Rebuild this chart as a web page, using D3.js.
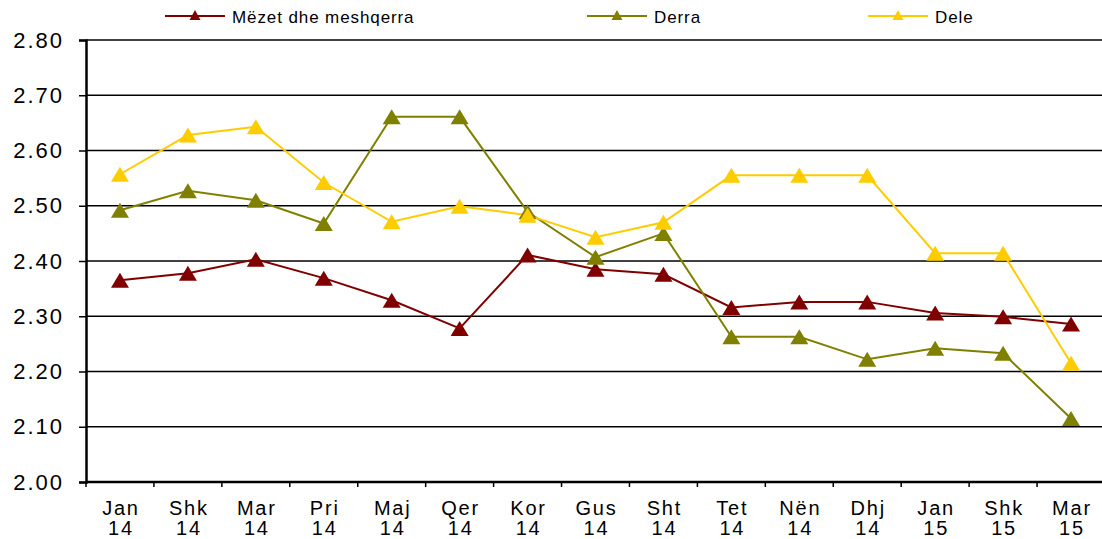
<!DOCTYPE html>
<html>
<head>
<meta charset="utf-8">
<script src="https://cdn.jsdelivr.net/npm/d3@7"></script>
<style>
  body { margin: 0; background: #fff; }
  svg { font-family: "Liberation Sans", Arial, sans-serif; }
</style>
</head>
<body>
<div id="graph"></div>
<script>
// Months (Albanian) and years
const months = ["Jan", "Shk", "Mar", "Pri", "Maj", "Qer", "Kor", "Gus", "Sht", "Tet", "Nën", "Dhj", "Jan", "Shk", "Mar"];
const years = ["14", "14", "14", "14", "14", "14", "14", "14", "14", "14", "14", "14", "15", "15", "15"];
const yTicks = [2.0, 2.1, 2.2, 2.3, 2.4, 2.5, 2.6, 2.7, 2.8];

const seriesNames = ["Mëzet dhe meshqerra", "Derra", "Dele"];
const mezet = [2.365, 2.378, 2.403, 2.369, 2.329, 2.278, 2.411, 2.385, 2.376, 2.316, 2.326, 2.326, 2.306, 2.299, 2.286];
const derra = [2.492, 2.527, 2.510, 2.468, 2.661, 2.661, 2.489, 2.407, 2.450, 2.263, 2.263, 2.222, 2.242, 2.233, 2.115];
const dele = [2.557, 2.628, 2.643, 2.542, 2.471, 2.499, 2.483, 2.443, 2.470, 2.555, 2.555, 2.555, 2.414, 2.414, 2.215];

const colors = ["#800000", "#808000", "#FFCC00"];

const width = 1102;
const height = 539;
const margins = { top: 40, right: -3, bottom: 57, left: 86 };

const keys = months.map((m, i) => i);

const xScale = d3.scaleBand()
    .domain(keys)
    .range([margins.left, width - margins.right]);

const yScale = d3.scaleLinear()
    .domain([2.0, 2.8])
    .range([height - margins.bottom, margins.top]);

const svg = d3.select("#graph").append("svg")
    .attr("width", width)
    .attr("height", height);

// Horizontal grid lines
svg.selectAll("line.horizontalGrid")
    .data(yTicks.slice(1))
    .enter()
    .append("line")
    .attr("class", "horizontalGrid")
    .attr("x1", margins.left)
    .attr("x2", width - margins.right)
    .attr("y1", d => yScale(d))
    .attr("y2", d => yScale(d))
    .attr("stroke", "#000")
    .attr("stroke-width", 1.5);

// Y-axis
const yAxis = svg.append("g")
    .attr("transform", "translate(" + margins.left + ",0)")
    .call(d3.axisLeft(yScale).tickValues(yTicks).tickFormat(d3.format(".2f")).tickSize(7).tickPadding(15));
yAxis.select(".domain").attr("stroke-width", 2.5);
yAxis.selectAll(".tick line").attr("stroke-width", 1.5);
yAxis.selectAll("text")
    .style("font-size", "22px")
    .style("letter-spacing", "2px")
    .attr("fill", "#000");

// X-axis: ticks at band boundaries
const xAxisG = svg.append("g")
    .attr("transform", "translate(0," + (height - margins.bottom) + ")");
xAxisG.append("line")
    .attr("x1", margins.left)
    .attr("x2", width - margins.right)
    .attr("stroke", "#000")
    .attr("stroke-width", 2.5);
xAxisG.selectAll("line.xtick")
    .data(keys)
    .enter()
    .append("line")
    .attr("class", "xtick")
    .attr("x1", d => xScale(d))
    .attr("x2", d => xScale(d))
    .attr("y1", 0)
    .attr("y2", 5)
    .attr("stroke", "#000")
    .attr("stroke-width", 1.5);

// Two-line category labels: month on top, year below
xAxisG.selectAll("text.xmonth")
    .data(keys)
    .enter()
    .append("text")
    .attr("class", "xmonth")
    .attr("x", d => xScale(d) + xScale.bandwidth() / 2 + 1)
    .attr("y", 33)
    .attr("text-anchor", "middle")
    .style("font-size", "20px")
    .style("letter-spacing", "1.8px")
    .attr("fill", "#000")
    .text(d => months[d]);
xAxisG.selectAll("text.xyear")
    .data(keys)
    .enter()
    .append("text")
    .attr("class", "xyear")
    .attr("x", d => xScale(d) + xScale.bandwidth() / 2 + 1)
    .attr("y", 53)
    .attr("text-anchor", "middle")
    .style("font-size", "20px")
    .style("letter-spacing", "1.8px")
    .attr("fill", "#000")
    .text(d => years[d]);

// Lines and markers
const allSeries = [mezet, derra, dele];
const line = d3.line()
    .x((d, i) => xScale(i) + xScale.bandwidth() / 2)
    .y(d => yScale(d));

function triangle(cx, cy, w, h) {
    return "M" + cx + "," + (cy - h / 2) + "L" + (cx + w / 2) + "," + (cy + h / 2) + "L" + (cx - w / 2) + "," + (cy + h / 2) + "Z";
}

allSeries.forEach(function(series, s) {
    svg.append("path")
        .datum(series)
        .attr("d", line)
        .attr("stroke", colors[s])
        .attr("stroke-width", 2)
        .attr("fill", "none");
});
allSeries.forEach(function(series, s) {
    svg.selectAll(".dot" + s)
        .data(series)
        .enter().append("path")
        .attr("class", "dot" + s)
        .attr("d", (d, i) => triangle(xScale(i) + xScale.bandwidth() / 2, yScale(d), 18, 15))
        .attr("fill", colors[s]);
});

// Legend
const legendX = [165, 587, 868];
const legend = svg.selectAll(".legend")
    .data(seriesNames)
    .enter().append("g")
    .attr("class", "legend")
    .attr("transform", (d, i) => "translate(" + legendX[i] + ",16)");
legend.append("line")
    .attr("x1", 0)
    .attr("x2", 60)
    .attr("stroke", (d, i) => colors[i])
    .attr("stroke-width", 2);
legend.append("path")
    .attr("d", triangle(30, -1, 11, 10))
    .attr("fill", (d, i) => colors[i]);
legend.append("text")
    .attr("x", 67)
    .attr("y", 1)
    .attr("dy", ".35em")
    .style("font-size", "17px")
    .style("letter-spacing", "0.9px")
    .attr("fill", "#000")
    .text(d => d);
</script>
</body>
</html>
